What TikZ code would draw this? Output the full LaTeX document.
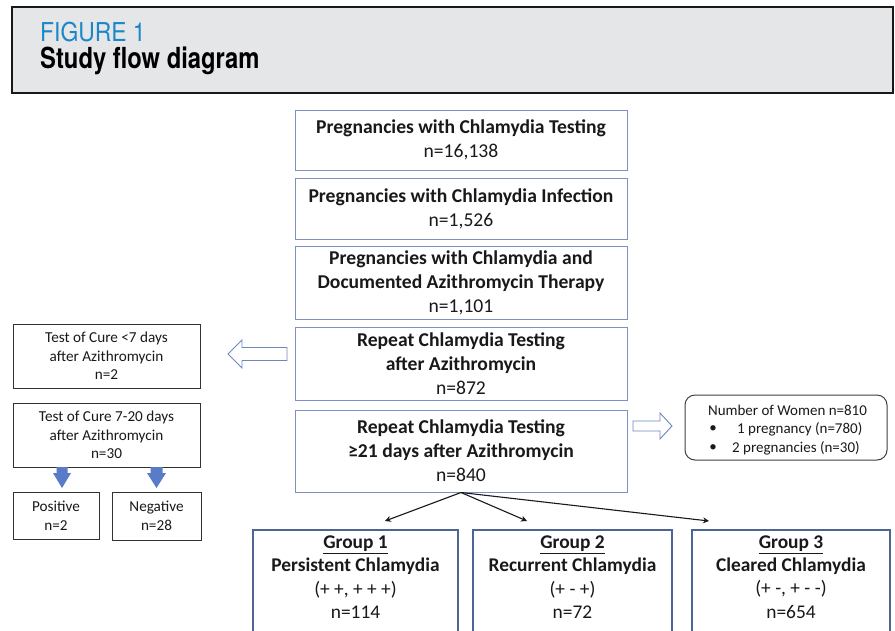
\documentclass[tikz,border=0pt]{standalone}
\usepackage{fontspec}
\setmainfont{Carlito}
\newfontfamily\figfont[FakeStretch=0.88]{TeX Gyre Heros}
\newfontfamily\ttlfont[FakeStretch=0.82]{TeX Gyre Heros}
\usetikzlibrary{arrows.meta}
\definecolor{boxblue}{RGB}{125,145,195}
\definecolor{grpblue}{RGB}{77,101,148}
\definecolor{arrowfill}{RGB}{88,124,200}
\definecolor{hollowline}{RGB}{110,135,190}
\definecolor{headfill}{RGB}{229,230,232}
\definecolor{figblue}{RGB}{26,135,201}
\definecolor{txt}{RGB}{25,25,25}
\tikzset{
  mainbox/.style={draw=boxblue, line width=1pt, minimum width=332pt, inner sep=0pt, align=center, text=txt,
    font=\fontsize{19.6}{24}\selectfont},
  leftbox/.style={draw=black!80, line width=1pt, inner sep=0pt, align=center, text=txt,
    font=\fontsize{15.2}{18.5}\selectfont},
  grptext/.style={align=center, text=txt, inner sep=0pt, font=\fontsize{19.4}{23.3}\selectfont},
  grpline/.style={draw=grpblue, line width=2.6pt},
  hollow/.style={draw=hollowline, fill=white, line width=0.9pt, line join=miter},
  bluearrow/.style={fill=arrowfill, draw=none},
  flow/.style={draw=black!90, line width=1.1pt, -{Stealth[length=6pt,width=6pt]}},
  womtext/.style={inner sep=0pt, text=txt, font=\fontsize{15}{18}\selectfont},
}
\begin{document}
\begin{tikzpicture}[x=1pt,y=-1pt]
\useasboundingbox (0,0) rectangle (895,630);
\clip (0,0) rectangle (895,630);
\fill[white] (0,0) rectangle (895,630);
% header
\node[draw=black!90, fill=headfill, line width=2pt, minimum width=881pt, minimum height=86pt, inner sep=0pt] (hdr) at (452.5,50) {};
\node[anchor=base west, inner sep=0pt, text=figblue, font=\figfont\fontsize{26}{26}\selectfont] (fig) at (40,41) {FIGURE 1};
\node[anchor=base west, inner sep=0pt, text=black, font=\ttlfont\bfseries\fontsize{29}{29}\selectfont] (ttl) at (40,68.5) {Study flow diagram};
% main column
\node[mainbox, minimum height=60pt] (b1) at (461,140) {\textbf{Pregnancies with Chlamydia Testing}\\n=16,138};
\node[mainbox, minimum height=61pt] (b2) at (461,208.5) {\textbf{Pregnancies with Chlamydia Infection}\\n=1,526};
\node[mainbox, minimum height=73pt] (b3) at (461,282.5) {\textbf{Pregnancies with Chlamydia and}\\\textbf{Documented Azithromycin Therapy}\\n=1,101};
\node[mainbox, minimum height=73pt] (b4) at (461,364) {\textbf{Repeat Chlamydia Testing}\\\textbf{after Azithromycin}\\n=872};
\node[mainbox, minimum height=82pt] (b5) at (461,451) {\textbf{Repeat Chlamydia Testing}\\\textbf{≥21 days after Azithromycin}\\n=840};
% left boxes
\node[leftbox, minimum width=187pt, minimum height=64pt] (l1) at (106.5,356) {Test of Cure <7 days\\after Azithromycin\\n=2};
\node[leftbox, minimum width=187pt, minimum height=64pt] (l2) at (106.5,435) {Test of Cure 7-20 days\\after Azithromycin\\n=30};
\node[leftbox, minimum width=86pt, minimum height=47pt] (pos) at (56,515.5) {Positive\\n=2};
\node[leftbox, minimum width=89pt, minimum height=48pt] (neg) at (156.5,516) {Negative\\n=28};
% blue down arrows
\fill[bluearrow] (56.5,467) -- (67.5,467) -- (67.5,473) -- (71,473) -- (62,488) -- (53,473) -- (56.5,473) -- cycle;
\fill[bluearrow] (150.5,467) -- (162.5,467) -- (162.5,473) -- (166,473) -- (156.5,488) -- (147,473) -- (150.5,473) -- cycle;
% hollow arrows
\draw[hollow] (228,354) -- (242,340) -- (242,347.5) -- (287,347.5) -- (287,360.5) -- (242,360.5) -- (242,368) -- cycle;
\draw[hollow] (672,426) -- (660,413) -- (660,421) -- (633,421) -- (633,431) -- (660,431) -- (660,439) -- cycle;
% right rounded box
\node[draw=black!75, line width=1pt, rounded corners=10pt, minimum width=202pt, minimum height=65pt, inner sep=0pt] (wom) at (786,427.5) {};
\node[womtext, anchor=center] (w1) at (787.5,410) {Number of Women n=810};
\node[womtext, anchor=center] (wb1) at (713,429.5) {•};
\node[womtext, anchor=west] (w2) at (737,429.5) {1 pregnancy (n=780)};
\node[womtext, anchor=center] (wb2) at (713,448) {•};
\node[womtext, anchor=west] (w3) at (732,448) {2 pregnancies (n=30)};
% groups
\draw[grpline] (253,650) -- (253,530) -- (458,530) -- (458,650);
\draw[grpline] (473,650) -- (473,530) -- (672,530) -- (672,650);
\draw[grpline] (692,650) -- (692,530) -- (890,530) -- (890,650);
\node[grptext] (g1) at (355.5,577) {\textbf{\underline{Group 1}}\\\textbf{Persistent Chlamydia}\\(+ +, + + +)\\n=114};
\node[grptext] (g2) at (572.5,577) {\textbf{\underline{Group 2}}\\\textbf{Recurrent Chlamydia}\\(+ - +)\\n=72};
\node[grptext] (g3) at (791,577) {\textbf{\underline{Group 3}}\\\textbf{Cleared Chlamydia}\\(+ -, + - -)\\n=654};
% flow arrows
\coordinate (t1) at (385,521);
\coordinate (t2) at (527,521);
\coordinate (t3) at (709,521);
\draw[flow] (b5.south) -- (t1);
\draw[flow] (b5.south) -- (t2);
\draw[flow] (b5.south) -- (t3);
\end{tikzpicture}
\end{document}
